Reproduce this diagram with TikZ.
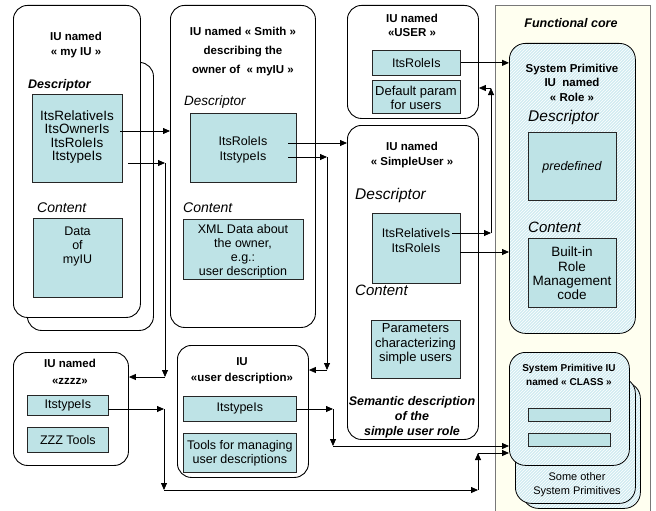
\documentclass[tikz,border=0pt]{standalone}
\usepackage{fontspec}
\setmainfont{Liberation Sans}
\usetikzlibrary{arrows.meta,patterns}

\definecolor{cybox}{RGB}{190,227,230}
\definecolor{corefill}{RGB}{255,255,240}
\definecolor{coreline}{RGB}{120,120,120}
\definecolor{primfill}{RGB}{210,236,241}

% box placed by its corners: name, style, x1, y1, x2, y2
\newcommand\mkbox[6]{\node[#2, anchor=north west, minimum width={#5-#3}, minimum height={#6-#4}] (#1) at (#3,#4) {};}
\newcommand\fsz[2]{\fontsize{#1}{#2}\selectfont}

\tikzset{
  iu/.style={draw=black, line width=0.9pt, rounded corners=14pt, fill=white, inner sep=0pt},
  cy/.style={draw=black!85, line width=0.7pt, fill=cybox, inner sep=0pt},
  prim/.style={draw=black, line width=0.8pt, rounded corners=16pt, inner sep=0pt,
    preaction={fill=primfill}, pattern=north east lines, pattern color=white},
  core/.style={draw=coreline, line width=0.8pt, fill=corefill, inner sep=0pt},
  lbl/.style={inner sep=0pt, align=center, font=\fsz{12.5}{14}},
  ttl/.style={inner sep=0pt, align=center, font=\bfseries\fsz{11.5}{15}},
  sec/.style={inner sep=0pt, anchor=west, font=\itshape\fsz{14}{16}},
  arr/.style={draw=black, line width=0.8pt, -{Triangle[length=7pt,width=6pt]}},
}

\begin{document}
\begin{tikzpicture}[x=1pt,y=-1pt]
\useasboundingbox (0,0) rectangle (656,511);
\clip (0,0) rectangle (656,511);

% functional core background
\mkbox{core}{core}{495}{5}{650}{530}
\node[inner sep=0pt, font=\bfseries\itshape\fsz{12.5}{14}] (coret) at (571,23) {Functional core};

% IU "my IU"
\mkbox{myiuback}{iu}{27}{62}{153}{330}
\mkbox{myiu}{iu}{13}{5}{140}{317}
\node[ttl] (myiut) at (76,45.5) {IU named\\« my IU »};
\node[sec, font=\bfseries\itshape\fsz{12.5}{14}] (myiud) at (28,85) {Descriptor};
\mkbox{mydesc}{cy}{32}{94}{122}{182}
\node[lbl, font=\fsz{13.5}{13.3}] (mydesct) at (77,137) {ItsRelativeIs\\ItsOwnerIs\\ItsRoleIs\\ItstypeIs};
\node[sec] (myiuc) at (37,208) {Content};
\mkbox{mycont}{cy}{33}{218}{122}{297}
\node[lbl] (myconttext) at (77.5,246.5) {Data\\of\\myIU};

% IU "Smith"
\mkbox{smith}{iu}{170}{5}{315}{327}
\node[ttl, font=\bfseries\fsz{11.5}{19}] (smitht) at (243,51.5) {IU named « Smith »\\describing the\\owner of~ « myIU »};
\node[sec, font=\itshape\fsz{13.5}{16}] (smithd) at (184,102) {Descriptor};
\mkbox{smdesc}{cy}{190}{113}{296}{182}
\node[lbl, font=\fsz{12.5}{15}] (smdesct) at (243,149.5) {ItsRoleIs\\ItstypeIs};
\node[sec] (smithc) at (183,208) {Content};
\mkbox{smcont}{cy}{183}{219}{303}{279}
\node[lbl] (smcontt) at (243,251) {XML Data about\\the owner,\\e.g.:\\user description};

% IU "USER"
\mkbox{user}{iu}{347}{5}{478}{118}
\node[ttl, font=\bfseries\fsz{11.5}{14}] (usert) at (412,25) {IU named\\«USER »};
\mkbox{usrole}{cy}{372}{50}{460}{75}
\node[lbl] (usrolet) at (usrole) {ItsRoleIs};
\mkbox{usdef}{cy}{372}{80}{460}{113}
\node[lbl, font=\fsz{13}{14}] (usdeft) at (416,98) {Default param\\for users};

% IU "SimpleUser"
\mkbox{simple}{iu}{347}{125}{478}{439}
\node[ttl] (simplet) at (412,155.5) {IU named\\« SimpleUser »};
\node[sec, font=\itshape\fsz{15.5}{16}] (simpled) at (355,195) {Descriptor};
\mkbox{sidesc}{cy}{372}{213}{460}{283}
\node[lbl, font=\fsz{12.5}{15}] (sidesct) at (416,240.5) {ItsRelativeIs\\ItsRoleIs};
\node[sec, font=\itshape\fsz{15}{16}] (simplec) at (355,290) {Content};
\mkbox{sicont}{cy}{371}{320}{460}{378}
\node[lbl, font=\fsz{13}{14.5}] (siconttext) at (415.5,344) {Parameters\\characterizing\\simple users};
\node[ttl, font=\bfseries\itshape\fsz{12.5}{15}] (semt) at (412,417) {Semantic description\\of the\\simple user role};

% system primitive "Role"
\mkbox{role}{prim}{509}{43}{635}{333}
\node[ttl, font=\bfseries\fsz{11.5}{14.5}] (rolet) at (572,82.5) {System Primitive\\IU~ named\\« Role »};
\node[sec, font=\itshape\fsz{15.5}{16}] (roled) at (528,117) {Descriptor};
\mkbox{rodesc}{cy}{528}{132}{616}{200}
\node[lbl, font=\itshape\fsz{12.5}{14}] (rodesct) at (572,167) {predefined};
\node[sec, font=\itshape\fsz{15}{16}] (rolec) at (528,227) {Content};
\mkbox{rocont}{cy}{528}{238}{616}{307}
\node[lbl, font=\fsz{13.5}{14.3}] (roconttext) at (572,273.5) {Built-in\\Role\\Management\\code};

% system primitive "CLASS" and the others behind it
\mkbox{class3}{prim}{522}{382}{640}{508}
\mkbox{class2}{prim}{515}{377}{635}{503}
\mkbox{class}{prim}{509}{352}{629}{465}
\node[ttl, font=\bfseries\fsz{10}{14}] (classt) at (569,375) {System Primitive IU\\named « CLASS »};
\mkbox{clbar1}{cy}{528}{408}{610}{421}
\mkbox{clbar2}{cy}{528}{433}{610}{446}
\node[lbl, font=\fsz{11}{14}] (othert) at (577,485) {Some other\\System Primitives};

% IU "zzzz"
\mkbox{zzzz}{iu}{13}{352}{128}{465}
\node[ttl, font=\bfseries\fsz{11.5}{17}] (zzzzt) at (70,371.5) {IU named\\«zzzz»};
\mkbox{zztype}{cy}{27}{395}{108}{415}
\node[lbl] (zztypet) at (zztype) {ItstypeIs};
\mkbox{zztools}{cy}{27}{427}{108}{452}
\node[lbl] (zztoolst) at (zztools) {ZZZ Tools};

% IU "user description"
\mkbox{udesc}{iu}{177}{345}{308}{477}
\node[ttl, font=\bfseries\fsz{11.5}{16}] (udesct) at (242,371) {IU\\«user description»};
\mkbox{udtype}{cy}{183}{396}{296}{421}
\node[lbl] (udtypet) at (udtype) {ItstypeIs};
\mkbox{udtools}{cy}{183}{433}{296}{472}
\node[lbl] (udtoolst) at (udtools) {Tools for managing\\user descriptions};

% connector start and bend points
\coordinate (s1) at (120,131);
\coordinate (s2) at (128,163);
\coordinate (b2a) at (165,163);
\coordinate (b2b) at (165,377);
\coordinate (s3) at (108,409);
\coordinate (b3a) at (164,409);
\coordinate (b3b) at (164,490);
\coordinate (b3c) at (478,490);
\coordinate (b3d) at (478,453);
\coordinate (s4) at (288,143);
\coordinate (s5) at (288,157);
\coordinate (b5a) at (327,157);
\coordinate (b5b) at (327,370);
\coordinate (s6) at (296,409);
\coordinate (b6a) at (333,409);
\coordinate (b6b) at (333,446);
\coordinate (s8) at (452,233);
\coordinate (b8a) at (491,233);
\coordinate (b8b) at (491,88);
\coordinate (s9) at (460,252);

% connectors
\draw[arr] (s1) -- (smith.west |- s1);
\draw[arr] (s2) -- (b2a);
\draw[arr] (b2a) -- (b2b);
\draw[arr] (b2b) -- (zzzz.east |- b2b);
\draw[arr] (s3) -- (b3a);
\draw[arr] (b3a) -- (b3b);
\draw[arr] (b3b) -- (b3c);
\draw[arr] (b3c) -- (b3d);
\draw[arr] (b3d) -- (class.west |- b3d);
\draw[arr] (s4) -- (simple.west |- s4);
\draw[arr] (s5) -- (b5a);
\draw[arr] (b5a) -- (b5b);
\draw[arr] (b5b) -- (udesc.east |- b5b);
\draw[arr] (s6) -- (b6a);
\draw[arr] (b6a) -- (b6b);
\draw[arr] (b6b) -- (class.west |- b6b);
\draw[arr] (usrole.east) -- (role.west |- usrole.east);
\draw[arr] (s8) -- (b8a);
\draw[arr] (b8a) -- (b8b);
\draw[arr] (b8b) -- (user.east |- b8b);
\draw[arr] (s9) -- (role.west |- s9);
\end{tikzpicture}
\end{document}
